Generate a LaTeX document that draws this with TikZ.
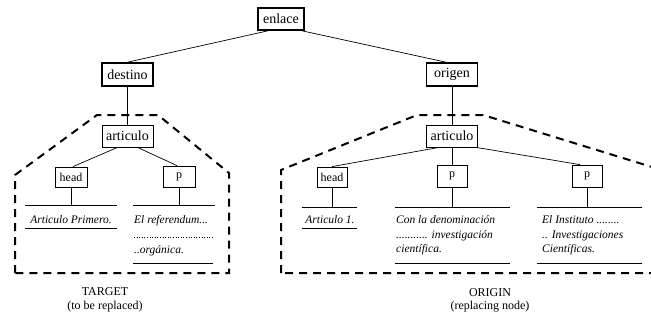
\documentclass[tikz,border=0pt]{standalone}
\usepackage{fontspec}
\setmainfont{Liberation Serif}
\begin{document}
\begin{tikzpicture}[x=1pt,y=-1pt,
  tbox/.style={draw, line width=1.6pt, inner sep=0pt, minimum height=23pt, font=\fontsize{14}{16}\selectfont},
  sbox/.style={draw, line width=0.8pt, inner sep=0pt, minimum height=22pt, font=\fontsize{14}{16}\selectfont},
  hbox/.style={draw, line width=0.8pt, inner sep=0pt, font=\fontsize{12}{14}\selectfont},
  link/.style={line width=0.7pt},
  region/.style={line width=2pt, dash pattern=on 8pt off 6pt},
  rulel/.style={line width=0.9pt},
  dotrule/.style={line width=0.6pt, dotted},
  itxt/.style={font=\fontsize{11.5}{14}\selectfont\itshape, inner sep=0pt},
  lbl/.style={font=\fontsize{12}{14}\selectfont, inner sep=0pt}]
\useasboundingbox (0,0) rectangle (651,322);
\clip (0,0) rectangle (651,322);

% boxes
\node[tbox, minimum width=46pt, minimum height=22pt] (enlace) at (281,19) {enlace};
\node[tbox, minimum width=51pt] (destino) at (127.5,74.5) {destino};
\node[tbox, minimum width=51pt] (origen) at (452,74.5) {origen};
\node[sbox, minimum width=51pt] (artL) at (127.5,136) {articulo};
\node[sbox, minimum width=51pt] (artR) at (452,136) {articulo};
\node[hbox, minimum width=32pt, minimum height=20pt] (headL) at (71,177) {head};
\node[hbox, minimum width=32pt, minimum height=21pt] (pL) at (179,176.5) {p};
\node[hbox, minimum width=30pt, minimum height=20pt] (headR) at (332,177) {head};
\node[hbox, minimum width=30pt, minimum height=22pt] (pM) at (452,176) {p};
\node[hbox, minimum width=30pt, minimum height=22pt] (pR) at (587,176) {p};

% rule coordinates
\coordinate (hLtop) at (71,205);
\coordinate (pLtop) at (179,205);
\coordinate (hRtop) at (332,207);
\coordinate (pMtop) at (452,207);
\coordinate (pRtop) at (587,207);

% connectors
\draw[link] ([xshift=-13pt]enlace.south) -- (destino.north);
\draw[link] ([xshift=21pt]enlace.south) -- ([xshift=-6pt]origen.north);
\draw[link] (destino) -- (artL);
\draw[link] (origen) -- (artR);
\draw[link] ([xshift=-10pt]artL.south) -- ([xshift=2pt]headL.north);
\draw[link] ([xshift=10pt]artL.south) -- ([xshift=-2pt]pL.north);
\draw[link] ([xshift=-13pt]artR.south) -- (headR.north);
\draw[link] (artR.south) -- (pM.north);
\draw[link] ([xshift=24pt]artR.south) -- ([xshift=-7pt]pR.north);
\draw[link] (headL.south) -- (hLtop);
\draw[link] (pL.south) -- (pLtop);
\draw[link] (headR.south) -- (hRtop);
\draw[link] (pM.south) -- (pMtop);
\draw[link] (pR.south) -- (pRtop);

% rules
\draw[rulel] (25,205) -- (117,205);
\draw[rulel] (25,228) -- (117,228);
\draw[rulel] (133,205) -- (215,205);
\draw[dotrule] (134,237) -- (213,237);
\draw[rulel] (133,263) -- (213,263);
\draw[rulel] (302,207) -- (357,207);
\draw[rulel] (302,228) -- (357,228);
\draw[rulel] (395,207) -- (510,207);
\draw[rulel] (395,263) -- (510,263);
\draw[rulel] (537,207) -- (642,207);
\draw[rulel] (537,263) -- (642,263);

% texts
\node[itxt, anchor=base] (tL1) at (71,223) {Articulo Primero.};
\node[itxt, anchor=base west] (tP1) at (134,223) {El referendum...};
\node[itxt, anchor=base west] (tP2) at (134,253) {..orgánica.};
\node[itxt, anchor=base] (tR1) at (330,223) {Articulo 1.};
\node[itxt, anchor=base west] (tM1) at (396,223) {Con la denominación};
\node[itxt, anchor=base west] (tM2) at (396,238) {........... investigación};
\node[itxt, anchor=base west] (tM3) at (396,252) {científica.};
\node[itxt, anchor=base west] (tN1) at (542,223) {El Instituto ........};
\node[itxt, anchor=base west] (tN2) at (542,238) {.. Investigaciones};
\node[itxt, anchor=base west] (tN3) at (542,252) {Científicas.};

% dashed regions
\draw[region] (15,273) -- (15,175) -- (97,115) -- (158,115) -- (229,173) -- (229,273) -- cycle;
\draw[region] (281,273) -- (281,170) -- (417,115) -- (483,115) -- (665,171) -- (665,273) -- cycle;

% labels
\node[lbl] (tgt) at (105,292) {TARGET};
\node[lbl] (tgt2) at (105,307) {(to be replaced)};
\node[lbl] (org) at (490,293) {ORIGIN};
\node[lbl] (org2) at (490,307) {(replacing node)};
\end{tikzpicture}
\end{document}
